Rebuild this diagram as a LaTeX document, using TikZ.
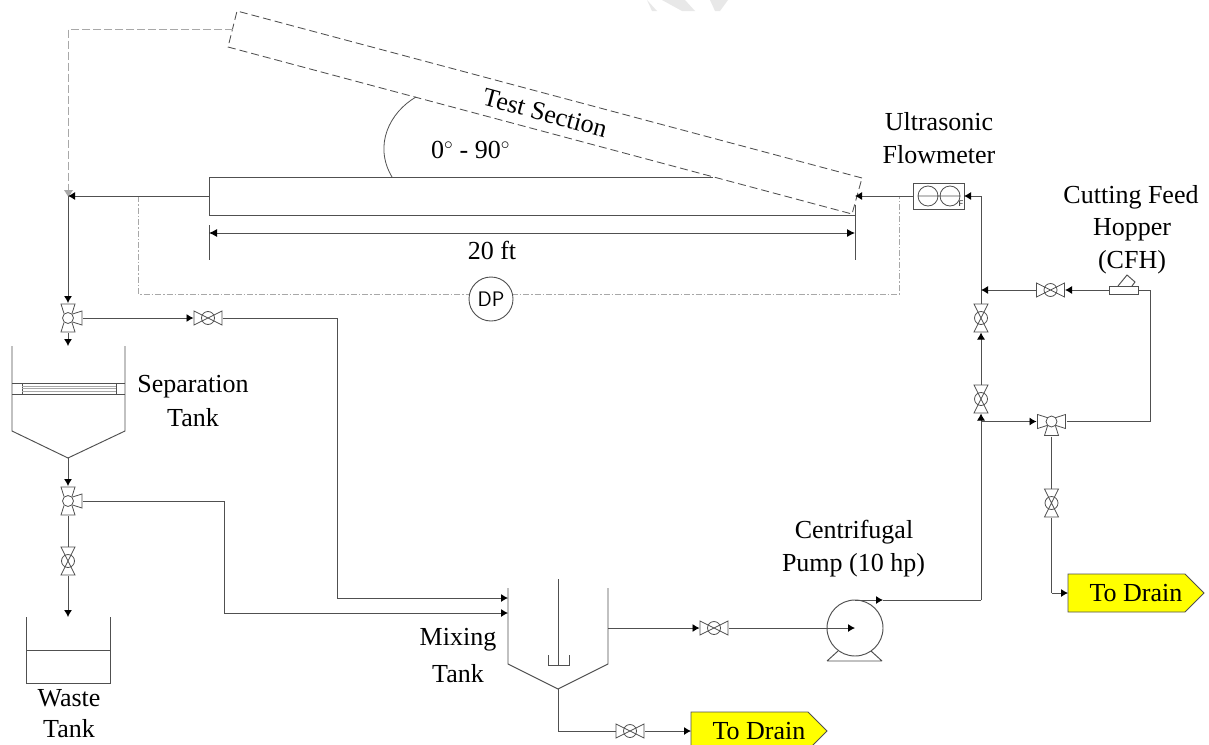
\documentclass[tikz,border=0pt]{standalone}
\usepackage{fontspec}
\setmainfont{Liberation Serif}
\usetikzlibrary{arrows.meta}
\definecolor{ln}{HTML}{505050}
\definecolor{gy}{HTML}{A8A8A8}
\definecolor{tagy}{HTML}{FFFF00}
\definecolor{wm}{HTML}{E8E8E8}
\tikzset{
  x=1pt,y=-1pt,
  pipe/.style={draw=ln,line width=0.95pt},
  flow/.style={pipe,-{Latex[length=7pt,width=8pt,black]}},
  thin part/.style={draw=ln,line width=0.8pt},
  lbl/.style={font=\fontsize{26}{30}\selectfont,text=black,inner sep=0pt,align=center},
  gatebase/.style={inner sep=0pt,outer sep=0pt,draw=none,line width=0pt},
  gateh/.style={gatebase,minimum width=29pt,minimum height=16pt,path picture={
    \begin{scope}[shift={(path picture bounding box.center)}]
      \draw[thin part] (-14,-7)--(14,7)--(14,-7)--(-14,7)--cycle;
      \draw[thin part] (0,0) circle (6.5);
    \end{scope}}},
  gatev/.style={gatebase,minimum width=16pt,minimum height=29pt,path picture={
    \begin{scope}[shift={(path picture bounding box.center)}]
      \draw[thin part] (-7,-14)--(7,14)--(-7,14)--(7,-14)--cycle;
      \draw[thin part] (0,0) circle (6.5);
    \end{scope}}},
  threer/.style={gatebase,minimum width=30pt,minimum height=30pt,path picture={
    \begin{scope}[shift={(path picture bounding box.center)}]
      \draw[thin part] (0,0) circle (5.5);
      \draw[thin part] (-4,-4.5)--(-7,-14)--(7,-14)--(4,-4.5);
      \draw[thin part] (-4,4.5)--(-7,14)--(7,14)--(4,4.5);
      \draw[thin part] (4.5,-4)--(14,-7)--(14,7)--(4.5,4);
    \end{scope}}},
  threelr/.style={gatebase,minimum width=30pt,minimum height=30pt,path picture={
    \begin{scope}[shift={(path picture bounding box.center)}]
      \draw[thin part] (0,0) circle (5.5);
      \draw[thin part] (-4.5,-4)--(-14,-7)--(-14,7)--(-4.5,4);
      \draw[thin part] (4.5,-4)--(14,-7)--(14,7)--(4.5,4);
      \draw[thin part] (-4,4.5)--(-7,14)--(7,14)--(4,4.5);
    \end{scope}}},
  tag/.style={inner sep=0pt,outer sep=0pt,minimum width=136pt,minimum height=38pt,
    font=\fontsize{26}{30}\selectfont,text=black},
  tagshape/.style={draw=ln,line width=0.8pt,fill=tagy},
  testdash/.style={draw=ln,line width=0.85pt,dash pattern=on 8pt off 4pt},
  greydash/.style={draw=gy,line width=0.9pt,dash pattern=on 8pt off 3pt},
  dashdot/.style={draw=gy,line width=0.9pt,dash pattern=on 6pt off 2pt on 1.5pt off 2pt},
}
\begin{document}
\begin{tikzpicture}
\clip (0,0) rectangle (1209,744);
\fill[white] (0,0) rectangle (1209,744);
\fill[wm] (647,0)--(657,11)--(652,11)--cycle (662,0)--(685,0)--(695,11)--(682,11)--cycle (710,0)--(728,0)--(720,11)--(715,11)--cycle;

% ---------- junctions
\coordinate (tsA) at (237,11);
\coordinate (tsB) at (862,178);
\coordinate (tsC) at (852,214);
\coordinate (tsD) at (228,47);
\coordinate (tsE) at (713,177);
\coordinate (pTL) at (209,177);
\coordinate (pBL) at (209,215);
\coordinate (pBR) at (855,215);
\coordinate (pIn) at (855,196);
\coordinate (pOut) at (209,196);
\coordinate (jLeft) at (68,196);
\coordinate (dL) at (138,196);
\coordinate (dR) at (899,196);
\coordinate (dBL) at (138,294);
\coordinate (dBR) at (899,294);
\coordinate (gA) at (233,29);
\coordinate (gB) at (68.5,29);
\coordinate (gC) at (68.5,194);

% ---------- test section (inclined and horizontal)
\draw[testdash] (tsB)--(tsA)--(tsD)--(tsC)--(tsB);
\draw[pipe] (tsE)--(pTL)--(pBL)--(pBR);
\draw[pipe] (855,205)--(855,260);
\draw[pipe] (209,225)--(209,260);
\draw[pipe,{Latex[length=8pt,width=8pt,black]}-{Latex[length=8pt,width=8pt,black]}] (209,233)--(855,233);
\draw[thin part] (416,97) .. controls (390,112) and (373,145) .. (392,177);
\node[lbl] (angle) at (470.5,150) {0$^\circ$ - 90$^\circ$};
\node[lbl] (tstext) at (545,113) [rotate=-15] {Test Section};
\node[lbl] (len) at (492,250) {20 ft};

% ---------- DP line
\draw[dashdot] (dL)--(dBL)--(dBR)--(dR);
\node[draw=ln,line width=0.9pt,fill=white,circle,minimum size=44pt,inner sep=0pt,font=\fontsize{21}{24}\sffamily] (dp) at (491,299) {DP};

% ---------- inclined return (grey)
\draw[greydash] (gA)--(gB)--(gC);
\fill[gy] (64,190)--(73,190)--(68.5,197)--cycle;

% ---------- flowmeter
\node[draw=ln,line width=0.95pt,minimum width=51pt,minimum height=26pt,inner sep=0pt,outer sep=0pt] (fm) at (938.5,196) {};
\draw[thin part] (928,196) circle (10) (950,196) circle (10) (918,196)--(960,196);
\node[font=\fontsize{8}{9}\sffamily,inner sep=0pt] (fmF) at (961,204) {F};
\node[lbl] (ultra) at (939,122) {Ultrasonic};
\node[lbl] (flowm) at (939,155) {Flowmeter};
\draw[flow] (fm.west)--(pIn);
\draw[flow] (pOut)--(jLeft);

% ---------- separation tank
\coordinate (sTL) at (12,346);
\coordinate (sTR) at (125,346);
\coordinate (sBL) at (12,431);
\coordinate (sBR) at (125,431);
\coordinate (sApex) at (68,458);
\draw[pipe] (sTL)--(sBL)--(sApex)--(sBR)--(sTR);
\draw[draw=ln,line width=0.9pt] (12,383)--(125,383) (12,394)--(125,394) (22,383)--(22,394) (116,383)--(116,394);
\draw[draw=gy,line width=0.8pt] (22,386)--(116,386) (22,388.5)--(116,388.5) (22,391)--(116,391);
\node[lbl] (sep1) at (193,387) {Separation};
\node[lbl] (sep2) at (193,418) {Tank};

% ---------- valves on the left
\node[threer] (tw1) at (68,318) {};
\node[threer] (tw2) at (68,501) {};
\node[gatev] (wv) at (68,561) {};
\node[gateh] (rv) at (208,318) {};
\draw[flow] (jLeft)--(tw1.north);
\draw[flow] (tw1.south)--(68,346);
\draw[flow] (sApex)--(tw2.north);
\draw[pipe] (tw2.south)--(wv.north);
\coordinate (wIn) at (68,617);
\draw[flow] (wv.south)--(wIn);
\draw[flow] (tw1.east)--(rv.west);

% ---------- waste tank
\draw[pipe] (26,617)--(26,683)--(110,683)--(110,617) (26,650)--(110,650);
\node[lbl] (w1) at (69,698) {Waste};
\node[lbl] (w2) at (69,729) {Tank};

% ---------- mixing tank
\coordinate (mApex) at (558,689);
\draw[pipe] (508,588)--(508,664)--(mApex)--(608,664)--(608,588);
\draw[thin part] (558,579)--(558,665) (548,655)--(548,665)--(569,665)--(569,655);
\node[lbl] (m1) at (458,640) {Mixing};
\node[lbl] (m2) at (458,674) {Tank};
\coordinate (mIn1) at (508,598);
\coordinate (mIn2) at (508,613);
\coordinate (c1) at (337,318);
\coordinate (c2) at (337,598);
\coordinate (c3) at (224,501);
\coordinate (c4) at (224,613);
\draw[pipe] (rv.east)--(c1)--(c2);
\draw[flow] (c2)--(mIn1);
\draw[pipe] (c3)--(tw2.east);
\draw[pipe] (c3)--(c4);
\draw[flow] (c4)--(mIn2);

% ---------- outlets of mixing tank
\draw[tagshape] (691,712)--(808,712)--(827,731)--(808,750)--(691,750)--cycle;
\node[tag] (drain1) at (759,731) {To Drain};
\node[gateh] (mv) at (630,731) {};
\coordinate (mc) at (558,731);
\draw[pipe] (mApex)--(mc)--(mv.west);
\draw[flow] (mv.east)--(drain1.west);
\node[gateh] (pv) at (714,628) {};
\coordinate (mOut) at (608,628);
\draw[flow] (mOut)--(pv.west);

% ---------- pump
\node[draw=ln,line width=0.95pt,circle,minimum size=56pt,inner sep=0pt,outer sep=0pt] (pump) at (855,628) {};
\draw[pipe] (827,661)--(882,661) (827,661)--(838,651) (882,661)--(871,651);
\draw[flow] (pv.east)--(pump.center);
\coordinate (pTop) at (855,600);
\coordinate (pJoin) at (981,600);
\draw[flow] (pTop)--(883,600);
\draw[pipe] (883,600)--(pJoin);
\node[lbl] (c1t) at (854,532) {Centrifugal};
\node[lbl] (c2t) at (853.5,565) {Pump (10 hp)};

% ---------- right loop
\node[gatev] (rv2) at (981,399) {};
\node[gatev] (rv1) at (981,318) {};
\node[gateh] (hv) at (1050.5,290) {};
\node[threelr] (tw3) at (1051.5,421.5) {};
\node[gatev] (dv) at (1051.5,503) {};
\draw[tagshape] (1068,574)--(1185,574)--(1204,593)--(1185,612)--(1068,612)--cycle;
\node[tag] (drain2) at (1136,593) {To Drain};
\coordinate (j1) at (981,421.5);
\coordinate (j2) at (981,290);
\coordinate (j3) at (981,196);
\coordinate (hc1) at (1150,290);
\coordinate (hc2) at (1150,421.5);
\coordinate (dc) at (1051.5,593);
\draw[flow] (pJoin)--(j1)--(rv2.south);
\draw[flow] (rv2.north)--(rv1.south);
\draw[flow] (rv1.north)--(j3)--(fm.east);
\draw[flow] (j1)--(tw3.west);
\draw[flow] (hv.west)--(j2);
\draw[pipe] (tw3.east)--(hc2)--(hc1)--(1138,290);
\draw[pipe] (tw3.south)--(dv.north);
\draw[pipe] (dv.south)--(dc);
\draw[flow] (dc)--(drain2.west);

% ---------- hopper
\node[draw=ln,line width=0.95pt,fill=white,minimum width=29pt,minimum height=8pt,inner sep=0pt,outer sep=0pt] (hop) at (1123.5,290) {};
\draw[pipe] (1118,286)--(1127,275)--(1135,282)--(1132,286);
\draw[flow] (hop.west)--(hv.east);
\node[lbl] (h1) at (1131,197) {Cutting Feed};
\node[lbl] (h2) at (1132,230) {Hopper};
\node[lbl] (h3) at (1132,262) {(CFH)};
\end{tikzpicture}
\end{document}
